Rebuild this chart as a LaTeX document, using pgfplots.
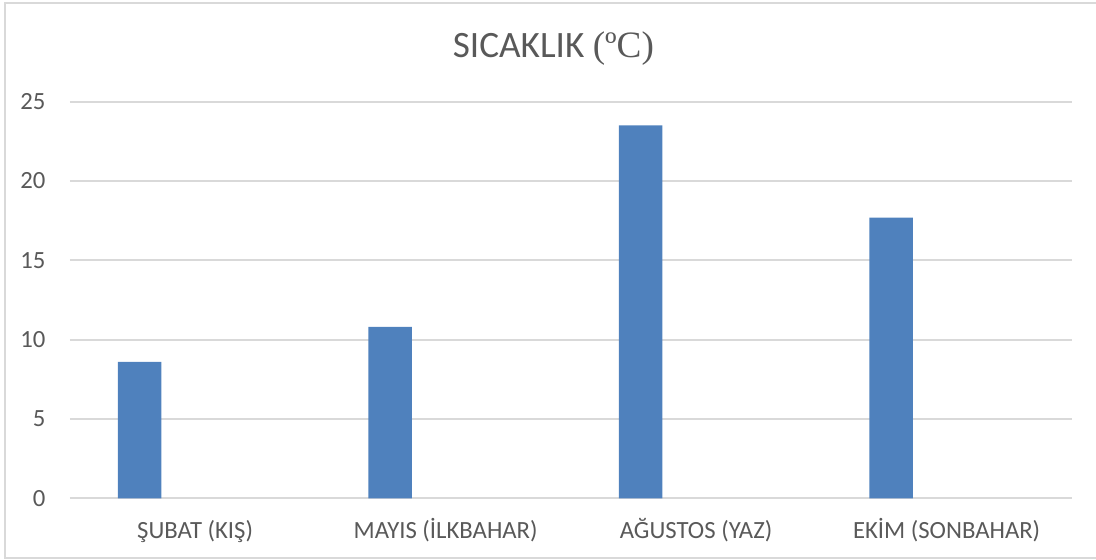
\documentclass[border=0pt]{standalone}
\usepackage{pgfplots}
\pgfplotsset{compat=1.18}
\usepackage{fontspec}
\setmainfont{Carlito}
\newfontfamily\seriffont{Liberation Serif}
\definecolor{barblue}{HTML}{4F81BD}
\definecolor{gridgray}{HTML}{D9D9D9}
\definecolor{txtgray}{HTML}{595959}
\begin{document}
\begin{tikzpicture}
\path[use as bounding box] (0,0) rectangle (430pt,219.7pt);
\draw[gridgray, line width=0.75pt] (430pt,218.6pt) -- (1.96pt,218.6pt) -- (1.96pt,0.8pt) -- (430pt,0.8pt);
\node[anchor=base, text=txtgray, font=\fontsize{14.6}{17}\selectfont, inner sep=0pt] at (217.1pt,197.2pt) {SICAKLIK {\seriffont (ºC)}};
\begin{axis}[
  at={(27.42pt,24.2pt)}, anchor=south west,
  scale only axis, width=393.1pt, height=155.6pt,
  xmin=-0.5, xmax=3.5, ymin=0, ymax=25,
  axis line style={draw=none},
  major tick length=0pt,
  ymajorgrids,
  grid style={gridgray, line width=0.75pt},
  ytick={0,5,10,15,20,25},
  xtick={0,1,2,3},
  xticklabels={ŞUBAT (KIŞ), MAYIS (İLKBAHAR), AĞUSTOS (YAZ), EKİM (SONBAHAR)},
  /pgf/number format/assume math mode=true,
  ticklabel style={font=\fontsize{9.7}{11.5}\selectfont, text=txtgray},
  xticklabel style={anchor=base, yshift=-15.9pt},
  yticklabel style={anchor=east, inner sep=0pt, xshift=-9.4pt},
  clip=false,
]
\addplot[ybar, bar width=0.174, fill=barblue, draw=none] coordinates {(-0.2215,8.6) (0.7785,10.8) (1.7785,23.5) (2.7785,17.7)};
\end{axis}
\end{tikzpicture}
\end{document}
